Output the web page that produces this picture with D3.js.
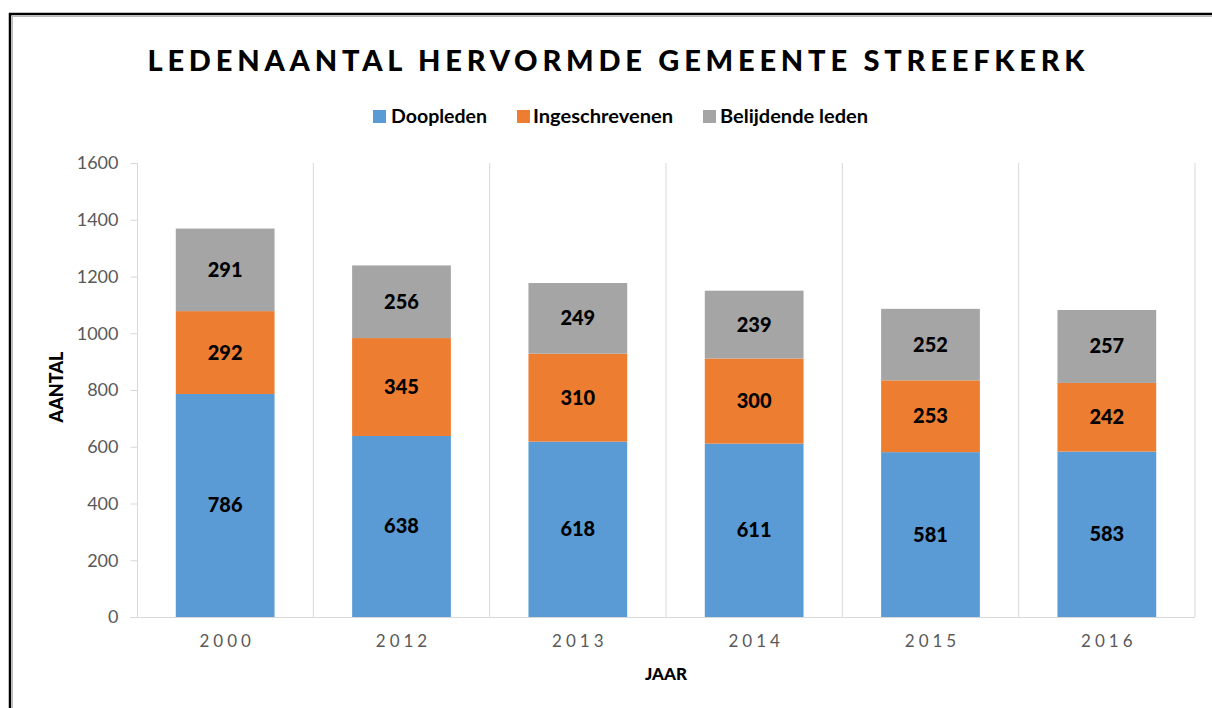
<!DOCTYPE html>
<html><head><meta charset="utf-8">
<script src="https://cdn.jsdelivr.net/npm/d3@7"></script>
<style>body{margin:0;background:#fff;} svg{display:block;}</style>
</head><body>
<svg id="c" width="1212" height="708"></svg>
<script>
const years = ["2000","2012","2013","2014","2015","2016"];
const legendLabels = ["Doopleden","Ingeschrevenen","Belijdende leden"];
const doopleden = [786,638,618,611,581,583];
const ingeschrevenen = [292,345,310,300,253,242];
const belijdende = [291,256,249,239,252,257];
const yTicks = [0,200,400,600,800,1000,1200,1400,1600];
const colors = ["#5B9BD5","#ED7D31","#A5A5A5"];

const rows = years.map((y,i)=>({year:y, d:doopleden[i], i:ingeschrevenen[i], b:belijdende[i]}));
const keys = ["d","i","b"];
const stack = d3.stack().keys(keys)(rows);

const svg = d3.select("#c");
const font = "Lato, 'Open Sans', sans-serif";

// frame
svg.append("line").attr("x1",9).attr("x2",1212).attr("y1",14).attr("y2",14).attr("stroke","#000").attr("stroke-width",2.5);
svg.append("line").attr("x1",10).attr("x2",10).attr("y1",13).attr("y2",708).attr("stroke","#000").attr("stroke-width",2.5);
svg.append("line").attr("x1",12).attr("x2",1212).attr("y1",16.5).attr("y2",16.5).attr("stroke","#bbb").attr("stroke-width",1);
svg.append("line").attr("x1",12.5).attr("x2",12.5).attr("y1",16).attr("y2",708).attr("stroke","#bbb").attr("stroke-width",1);

const x = d3.scaleBand().domain(years).range([137,1195]).paddingInner(0.44).paddingOuter(0.22);
const y = d3.scaleLinear().domain([0,1600]).range([617,163]);

// vertical gridlines at category boundaries
years.forEach((yr,k)=>{
  const xb = 137 + (k+1)*(1058/6);
  svg.append("line").attr("x1",xb).attr("x2",xb).attr("y1",163).attr("y2",617).attr("stroke","#d9d9d9").attr("stroke-width",1);
});

// y axis
const yAxis = svg.append("g").attr("transform","translate(137.5,0)")
  .call(d3.axisLeft(y).tickValues(yTicks).tickSize(7).tickPadding(12).tickFormat(d3.format("d")));
yAxis.select(".domain").attr("stroke","#d9d9d9").attr("d","M0,163V617");
yAxis.selectAll(".tick line").attr("stroke","#d9d9d9");
yAxis.selectAll("text").attr("fill","#595959").style("font-family",font).style("font-size","18px");

// bottom axis line
svg.append("line").attr("x1",130).attr("x2",1195).attr("y1",617.5).attr("y2",617.5).attr("stroke","#d9d9d9");

// bars
const g = svg.append("g");
stack.forEach((layer,li)=>{
  g.selectAll(null).data(layer).enter().append("rect")
    .attr("x",d=>x(d.data.year)).attr("width",x.bandwidth())
    .attr("y",d=>y(d[1])).attr("height",d=>y(d[0])-y(d[1]))
    .attr("fill",colors[li]);
  g.selectAll(null).data(layer).enter().append("text")
    .attr("x",d=>x(d.data.year)+x.bandwidth()/2)
    .attr("y",d=>(y(d[0])+y(d[1]))/2)
    .attr("dy","0.35em").attr("text-anchor","middle")
    .style("font-family",font).style("font-size","20px").style("font-weight","900")
    .attr("fill","#000").text(d=>d[1]-d[0]);
});

// x tick labels
svg.selectAll(null).data(years).enter().append("text")
  .attr("x",d=>x(d)+x.bandwidth()/2+2).attr("y",647)
  .attr("text-anchor","middle").attr("fill","#595959")
  .style("font-family",font).style("font-size","17px").style("letter-spacing","4px")
  .text(d=>d);

// title
svg.append("text").attr("x",616).attr("y",71).attr("text-anchor","middle")
  .style("font-family",font).style("font-size","29px").style("font-weight","900")
  .attr("textLength",937).attr("lengthAdjust","spacing").attr("fill","#000")
  .text("LEDENAANTAL HERVORMDE GEMEENTE STREEFKERK");

// legend
const legX = [373,517,703];
const legTX = [391,533,720];
const legW = [96,140,148];
legendLabels.forEach((l,i)=>{
  svg.append("rect").attr("x",legX[i]).attr("y",110).attr("width",13).attr("height",13).attr("fill",colors[i]);
  svg.append("text").attr("x",legTX[i]).attr("y",123)
    .attr("textLength",legW[i]).attr("lengthAdjust","spacingAndGlyphs")
    .style("font-family",font).style("font-size","19px").style("font-weight","bold").attr("fill","#000").text(l);
});

// axis titles
svg.append("text").attr("transform","translate(63,387) rotate(-90)").attr("text-anchor","middle")
  .style("font-family",font).style("font-size","18px").style("font-weight","900").text("AANTAL");
svg.append("text").attr("x",666).attr("y",680).attr("text-anchor","middle")
  .style("font-family",font).style("font-size","17px").style("font-weight","900").text("JAAR");
</script>
</body></html>
